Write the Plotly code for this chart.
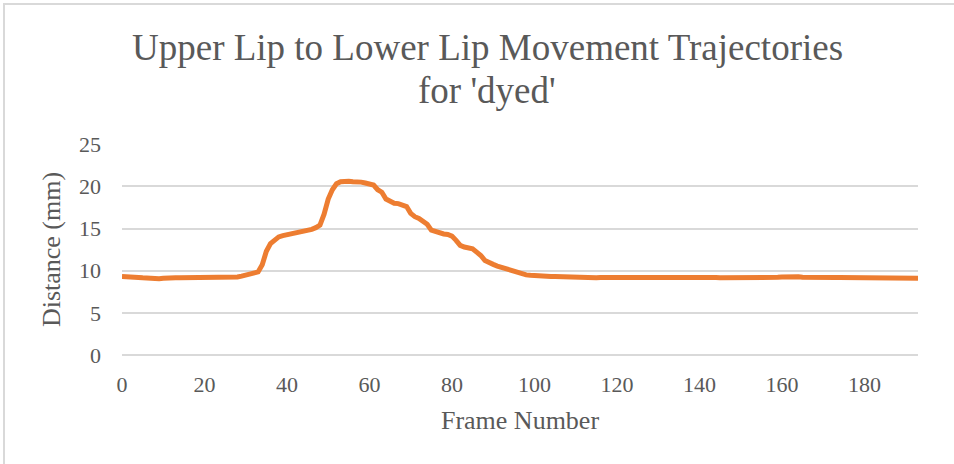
import plotly.graph_objects as go

title_line1 = "Upper Lip to Lower Lip Movement Trajectories"
title_line2 = "for 'dyed'"
x_title = "Frame Number"
y_title = "Distance (mm)"

frames = list(range(0, 194))
distance_mm = [
    9.3, 9.3, 9.25, 9.2, 9.2, 9.15, 9.1, 9.05, 9.05, 9.05,
    9.1, 9.15, 9.15, 9.15, 9.15, 9.15, 9.15, 9.15, 9.15, 9.15,
    9.15, 9.15, 9.15, 9.15, 9.15, 9.15, 9.15, 9.2, 9.25, 9.35,
    9.45, 9.55, 9.7, 9.85, 10.7, 12.3, 13.2, 13.7, 14.0, 14.15,
    14.25, 14.4, 14.55, 14.65, 14.75, 14.8, 14.9, 15.1, 15.4, 16.7,
    18.5, 19.6, 20.3, 20.55, 20.65, 20.6, 20.55, 20.55, 20.5, 20.4,
    20.3, 20.15, 19.6, 19.3, 18.5, 18.2, 18.0, 17.95, 17.85, 17.6,
    16.8, 16.4, 16.2, 15.9, 15.5, 14.8, 14.6, 14.5, 14.35, 14.3,
    14.1, 13.6, 13.0, 12.8, 12.7, 12.6, 12.2, 11.8, 11.2, 10.9,
    10.75, 10.55, 10.4, 10.2, 10.0, 9.85, 9.7, 9.6, 9.5, 9.45,
    9.4, 9.38, 9.35, 9.33, 9.3, 9.3, 9.28, 9.26, 9.24, 9.2,
    9.18, 9.15, 9.15, 9.15, 9.15, 9.17, 9.2, 9.2, 9.2, 9.2,
    9.22, 9.25, 9.28, 9.3, 9.3, 9.3, 9.3, 9.3, 9.3, 9.3,
    9.3, 9.3, 9.3, 9.3, 9.3, 9.3, 9.28, 9.25, 9.25, 9.2,
    9.2, 9.2, 9.2, 9.2, 9.18, 9.15, 9.15, 9.12, 9.1, 9.1,
    9.1, 9.08, 9.08, 9.08, 9.1, 9.12, 9.15, 9.18, 9.2, 9.22,
    9.25, 9.28, 9.3, 9.32, 9.28, 9.22, 9.2, 9.2, 9.2, 9.2,
    9.2, 9.2, 9.2, 9.2, 9.2, 9.2, 9.2, 9.2, 9.2, 9.2,
    9.18, 9.15, 9.12, 9.1, 9.1, 9.1, 9.1, 9.1, 9.1, 9.1,
    9.1, 9.1, 9.1, 9.1,
]
x_ticks = [0, 20, 40, 60, 80, 100, 120, 140, 160, 180]
y_ticks = [0, 5, 10, 15, 20, 25]

W, H = 954, 464
ML, MR, MT, MB = 122, 36, 144, 109
PW, PH = W - ML - MR, H - MT - MB

def px_x(p):
    return (p - ML) / PW

def px_y(p):
    return (H - MB - p) / PH

FONT = "Liberation Serif, Times New Roman, serif"
TXT = "#595959"
GRID = "#D9D9D9"

fig = go.Figure()
fig.add_trace(go.Scatter(
    x=frames, y=distance_mm, mode="lines",
    line=dict(color="#ED7D31", width=5),
    showlegend=False, hoverinfo="x+y",
))

fig.update_layout(
    width=W, height=H,
    margin=dict(l=ML, r=MR, t=MT, b=MB, pad=0),
    paper_bgcolor="white", plot_bgcolor="white",
    font=dict(family=FONT, color=TXT),
    xaxis=dict(
        range=[0, 193], tickvals=x_ticks, showgrid=False, zeroline=False,
        showline=False, ticks="", tickfont=dict(size=22, color=TXT, family=FONT),
        ticklabelstandoff=14,
        title=dict(text=x_title, font=dict(size=26, color=TXT, family=FONT), standoff=14),
    ),
    yaxis=dict(
        range=[0, 25.02], tickvals=y_ticks, showgrid=True, gridcolor=GRID, gridwidth=1.5,
        zeroline=True, zerolinecolor=GRID, zerolinewidth=1.5, showline=False, ticks="",
        tickfont=dict(size=22, color=TXT, family=FONT), ticklabelstandoff=20,
        title=dict(text=y_title, font=dict(size=26, color=TXT, family=FONT), standoff=10),
    ),
    annotations=[
        dict(text=title_line1, xref="paper", yref="paper", x=px_x(487), y=px_y(48),
             xanchor="center", yanchor="middle", showarrow=False,
             font=dict(size=37, color=TXT, family=FONT)),
        dict(text=title_line2, xref="paper", yref="paper", x=px_x(487), y=px_y(90),
             xanchor="center", yanchor="middle", showarrow=False,
             font=dict(size=37, color=TXT, family=FONT)),
    ],
    shapes=[
        dict(type="rect", xref="paper", yref="paper",
             x0=px_x(4), y0=px_y(H + 20), x1=px_x(W + 20), y1=px_y(4),
             line=dict(color=GRID, width=2), fillcolor="rgba(0,0,0,0)", layer="below"),
    ],
)

fig.write_html(
    "out.html",
    config={"displayModeBar": False},
    post_script="document.body.style.margin='0';document.body.style.overflow='hidden';",
)
